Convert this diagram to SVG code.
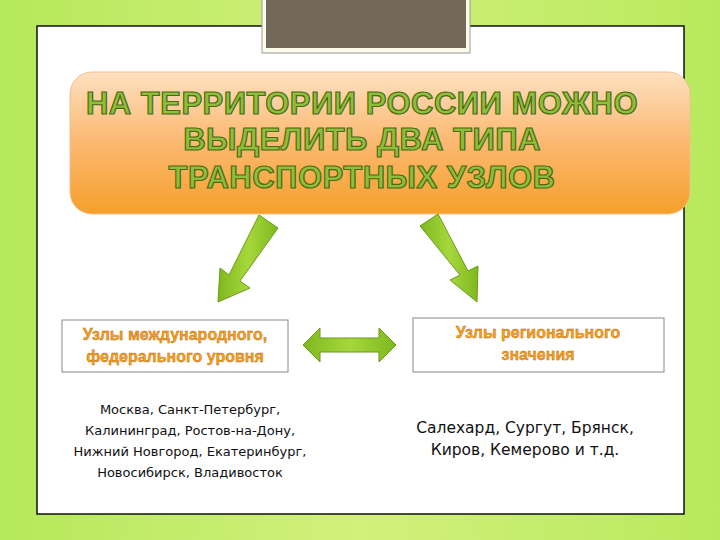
<svg xmlns="http://www.w3.org/2000/svg" width="720" height="540" viewBox="0 0 720 540">
<defs>
<linearGradient id="bg" x1="0" x2="1" y1="0" y2="0"><stop offset="0" stop-color="#b5e85a"/><stop offset="0.5" stop-color="#d2f07c"/><stop offset="1" stop-color="#b8e95c"/></linearGradient>
<linearGradient id="og" x1="0" x2="0" y1="0" y2="1"><stop offset="0" stop-color="#fde0c0"/><stop offset="0.5" stop-color="#fbb870"/><stop offset="1" stop-color="#f6a02a"/></linearGradient>
<linearGradient id="gr" x1="0" x2="1" y1="0" y2="0"><stop offset="0" stop-color="#7eb81e"/><stop offset="0.5" stop-color="#a6d83c"/><stop offset="1" stop-color="#7eb81e"/></linearGradient>
<style>
.t{font-family:"Liberation Sans",Arial,sans-serif;font-weight:bold;font-size:31px;letter-spacing:0.5px;fill:#8fbf3a;stroke:#4a6a14;stroke-width:1.2;text-anchor:middle}
.h{font-family:"Liberation Sans",Arial,sans-serif;font-weight:bold;font-size:16px;fill:#f6a020;stroke:#b86a10;stroke-width:0.4;text-anchor:middle}
.b{font-family:"DejaVu Sans",sans-serif;font-size:13px;fill:#111;text-anchor:middle}
.b2{font-family:"DejaVu Sans",sans-serif;font-size:15.5px;fill:#111;text-anchor:middle}
.box{fill:#fff;stroke:#888;stroke-width:1}
.ar{fill:url(#gr);stroke:#6a9a18;stroke-width:1}
</style>
</defs>
<rect width="720" height="540" fill="url(#bg)"/>
<rect x="37" y="26" width="647" height="488" fill="#fff" stroke="#111" stroke-width="1.5"/>
<rect x="262" y="-2" width="208" height="55" fill="#fbfbe8" stroke="#999"/>
<rect x="266" y="-2" width="200" height="50" fill="#72695a"/>
<g id="title">
<rect x="70" y="72" width="620" height="142" rx="22" fill="url(#og)" stroke="#f0c090"/>
<text class="t" x="362" y="114">НА ТЕРРИТОРИИ РОССИИ МОЖНО</text>
<text class="t" x="362" y="150">ВЫДЕЛИТЬ ДВА ТИПА</text>
<text class="t" x="362" y="188">ТРАНСПОРТНЫХ УЗЛОВ</text>
</g>
<g id="left">
<rect class="box" x="62" y="320" width="226" height="52"/>
<text class="h" x="175" y="340">Узлы международного,</text>
<text class="h" x="175" y="362">федерального уровня</text>
<text class="b" x="190" y="414">Москва, Санкт-Петербург,</text>
<text class="b" x="190" y="435">Калининград, Ростов-на-Дону,</text>
<text class="b" x="190" y="456">Нижний Новгород, Екатеринбург,</text>
<text class="b" x="190" y="477">Новосибирск, Владивосток</text>
</g>
<g id="right">
<rect class="box" x="413" y="318" width="251" height="54"/>
<text class="h" x="538" y="338">Узлы регионального</text>
<text class="h" x="538" y="360">значения</text>
<text class="b2" x="525" y="433">Салехард, Сургут, Брянск,</text>
<text class="b2" x="525" y="455">Киров, Кемерово и т.д.</text>
</g>
<g id="connectors">
<polygon class="ar" points="259,215 278,228 240,281 250,288 218,302 220,268 229,275"/>
<polygon class="ar" points="420,226 438,214 468,271 478,266 477,302 450,280 460,275"/>
<polygon class="ar" points="303,345 320,328 320,338 379,338 379,328 396,345 379,362 379,352 320,352 320,362"/>
</g>
</svg>
